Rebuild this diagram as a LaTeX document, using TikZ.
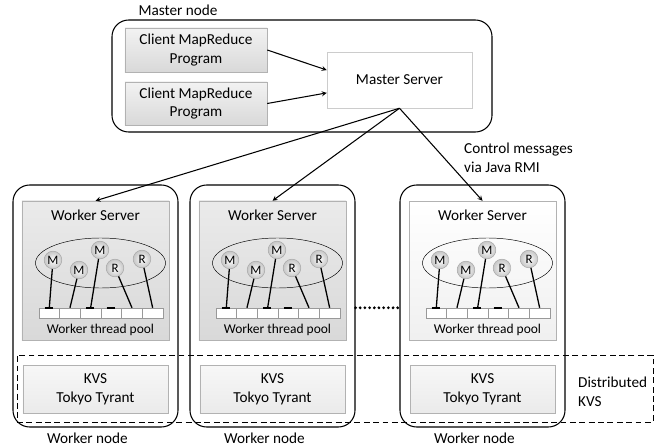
\documentclass[tikz,border=0pt]{standalone}
\usepackage{fontspec}
\setmainfont{Carlito}
\usepackage{tikz}
\usetikzlibrary{shapes.geometric}
\usetikzlibrary{shadows}

\begin{document}
\begin{tikzpicture}[x=0.03cm, y=-0.03cm, font=\fontsize{13}{16}\selectfont,
    outerbox/.style={draw, line width=0.9pt, rounded corners=0.5cm},
    graybox/.style={draw=gray!60, top color=gray!10, bottom color=gray!30, align=center,
        drop shadow={opacity=0.3, shadow xshift=0.8pt, shadow yshift=-0.8pt}},
    whitebox/.style={draw=gray!40, fill=white, align=center,
        drop shadow={opacity=0.3, shadow xshift=0.8pt, shadow yshift=-0.8pt}},
    wsbox/.style={graybox, top color=gray!16, bottom color=gray!30},
    wsboxlight/.style={graybox, top color=white, bottom color=gray!12},
    kvsbox/.style={graybox, top color=gray!6, bottom color=gray!16, minimum width=4.35cm, minimum height=1.44cm},
    task/.style={circle, draw=gray!70, inner color=white, outer color=gray!45, minimum size=0.53cm, inner sep=0pt, font=\fontsize{11}{13}\selectfont},
    cell/.style={draw=gray!80, fill=white, minimum width=0.62cm, minimum height=0.3cm, inner sep=0pt},
    link/.style={line width=1.1pt},
    msg/.style={-stealth, line width=0.9pt}]

    \useasboundingbox (0,0) rectangle (665,448);

    % master node
    \node (mnl) at (178,10) {Master node};
    \node[outerbox, minimum width=11.4cm, minimum height=3.36cm] (mn) at (302,76) {};
    \node[graybox, minimum width=4.26cm, minimum height=1.32cm] (cp1) at (196,50) {Client MapReduce\\Program};
    \node[graybox, minimum width=4.26cm, minimum height=1.29cm] (cp2) at (196,103.5) {Client MapReduce\\Program};
    \node[whitebox, minimum width=4.35cm, minimum height=1.68cm] (ms) at (399.5,80) {Master Server};

    \draw[msg] (cp1.east) -- ([yshift=8.5pt]ms.west);
    \draw[msg] (cp2.east) -- ([yshift=-11pt]ms.west);

    \node[anchor=west, align=left] (rmi) at (460,157.5) {Control messages\\via Java RMI};

    % worker nodes
    \foreach \w/\cx/\wsstyle in {1/95.5/wsbox, 2/272.5/wsbox, 3/482.5/wsboxlight} {
        \begin{scope}[shift={(\cx,0)}]
            \node[outerbox, minimum width=4.95cm, minimum height=7.26cm] (wn\w) at (0,306) {};
            \node[\wsstyle, minimum width=4.41cm, minimum height=4.17cm] (ws\w) at (0,270.5) {};
            \node (wst\w) at (0,215) {Worker Server};
            \node[ellipse, draw, minimum width=3.9cm, minimum height=1.5cm] (e\w) at (5,263) {};
            \foreach \k in {1,...,6} {
                \node[cell] (c\w\k) at ({-46.2+20.67*(\k-1)},313) {};
            }
            \foreach \n/\t/\dx/\dy in {m1/M/-42.5/260, m2/M/-16.5/270, m3/M/4.5/250, r1/R/19.5/268, r2/R/46.5/259} {
                \node[task] (\n\w) at (\dx,\dy) {\t};
            }
            \foreach \n/\k in {m1/1, m2/2, m3/3, r1/5, r2/6} {
                \draw[link] (\n\w) -- (c\w\k.north);
            }
            \foreach \k in {1,3,4} {
                \draw[line width=1.6pt] ([xshift=-4pt]c\w\k.north) -- ([xshift=3pt]c\w\k.north);
            }
            \node[font=\fontsize{11.5}{14}\selectfont] (wtp\w) at (5,330) {Worker thread pool};
            \node[kvsbox] (kvs\w) at (0,389) {KVS\\Tokyo Tyrant};
            \node (wl\w) at (-8,438) {Worker node};
        \end{scope}
        \draw[msg] (ms.south) -- (ws\w.north);
    }

    \draw[line width=2.6pt, line cap=round, dash pattern=on 0pt off 4pt] (wn2.east |- c26.north) -- (wn3.west |- c26.north);

    % distributed KVS
    \node[draw, dashed, line width=0.8pt, dash pattern=on 5pt off 3pt, minimum width=19.08cm, minimum height=2.01cm] (dkvs) at (335,388.5) {};
    \node[anchor=west, align=left] (dkl) at (574,392) {Distributed\\KVS};
\end{tikzpicture}
\end{document}
